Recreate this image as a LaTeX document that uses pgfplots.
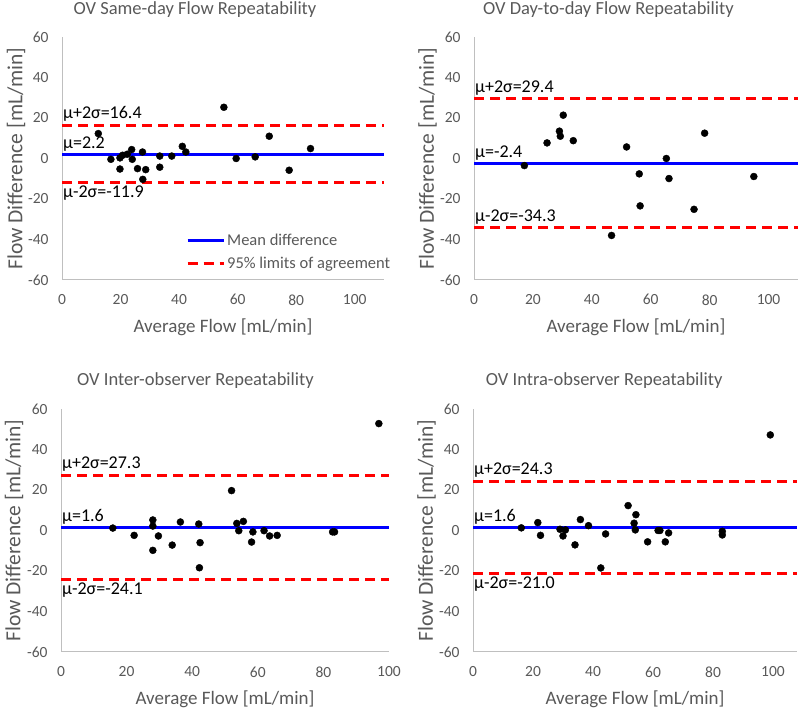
\documentclass[border=0pt]{standalone}
\usepackage{pgfplots}
\pgfplotsset{compat=1.18}
\usepackage{fontspec}
\setmainfont{Carlito}
\definecolor{txtgray}{HTML}{595959}
\definecolor{axgray}{HTML}{BFBFBF}
\definecolor{mblue}{RGB}{0,0,255}
\definecolor{lred}{RGB}{255,0,0}
\tikzset{ann/.style={font=\fontsize{18}{20}\selectfont, text=black, inner sep=1pt},
  ttl/.style={font=\fontsize{18.5}{20}\selectfont, text=txtgray, anchor=center, inner sep=0pt}}
\pgfplotsset{
  ba/.style={
    scale only axis, height=243pt,
    ymin=-60, ymax=60, ytick={-60,-40,...,60},
    xmin=0, xtick={0,20,...,100},
    axis x line*=bottom, axis y line*=left,
    axis line style={axgray, line width=1pt},
    major tick length=0pt,
    /pgf/number format/assume math mode=true,
    tick label style={font=\fontsize{15.5}{17}\selectfont, text=txtgray},
    yticklabel style={xshift=-10pt},
    xticklabel style={yshift=-11pt},
    xlabel={Average Flow [mL/min]},
    ylabel={Flow Difference [mL/min]},
    xlabel style={font=\fontsize{19}{21}\selectfont, text=txtgray, at={(axis description cs:0.5,-0.193)}, anchor=center},
    ylabel style={font=\fontsize{21.5}{23}\selectfont, text=txtgray, at={(axis description cs:-0.143,0.5)}, anchor=center},
    clip=false,
  },
  sc/.style={only marks, mark=*, mark size=3.5pt, black, forget plot},
  mline/.style={mblue, line width=3pt},
  lline/.style={lred, line width=3pt, dash pattern=on 10pt off 6pt},
}
\begin{document}
\begin{tikzpicture}
\path[use as bounding box] (0pt,0pt) rectangle (800pt,709pt);
% Panel 1
\begin{axis}[ba, at={(62pt,429pt)}, anchor=south west, width=322pt, xmax=110,
  legend style={at={(axis description cs:0.385,0.2)}, anchor=north west, draw=none, fill=none,
    font=\fontsize{16.5}{18}\selectfont, text=txtgray, row sep=6pt, inner sep=0pt},
  legend cell align=left,
  legend image code/.code={\draw[#1] (0pt,0pt) -- (36pt,0pt);}]
\addplot[sc] coordinates {(12.4,12.3) (16.7,-0.4) (19.8,0.3) (19.8,-5.2) (20.7,1.6) (22.3,2.1) (23.8,4.4) (24.0,-0.4) (25.8,-5.0) (27.5,3.2) (27.6,-10.3) (28.6,-5.5) (33.4,1.2) (33.4,-4.3) (37.5,1.2) (41.1,6.0) (42.3,3.2) (55.3,25.3) (59.5,0.0) (66.0,0.8) (70.8,11.0) (77.6,-5.8) (84.9,4.9)};
\addplot[mline] coordinates {(0,2.2) (110,2.2)};
\addlegendentry{Mean difference}
\addplot[lline] coordinates {(0,16.4) (110,16.4)};
\addlegendentry{95\% limits of agreement}
\addplot[lline, forget plot] coordinates {(0,-11.9) (110,-11.9)};
\node[ann, anchor=south west] at (axis cs:0,17.5) {μ+2σ=16.4};
\node[ann, anchor=south west] at (axis cs:0,3.0) {μ=2.2};
\node[ann, anchor=north west] at (axis cs:0,-13.0) {μ-2σ=-11.9};
\node[ttl] at (axis description cs:0.413,1.111) {OV Same-day Flow Repeatability};
\end{axis}
% Panel 2
\begin{axis}[ba, at={(474pt,429pt)}, anchor=south west, width=324pt, xmax=110]
\addplot[sc] coordinates {(17.1,-3.5) (24.8,7.7) (29.0,13.5) (29.3,11.0) (30.3,21.4) (33.7,8.8) (46.7,-38.0) (51.8,5.7) (56.1,-7.6) (56.4,-23.4) (65.3,0.0) (66.2,-9.9) (74.7,-25.1) (78.3,12.5) (95.0,-8.9)};
\addplot[mline] coordinates {(0,-2.4) (110,-2.4)};
\addplot[lline] coordinates {(0,29.4) (110,29.4)};
\addplot[lline] coordinates {(0,-34.3) (110,-34.3)};
\node[ann, anchor=south west] at (axis cs:0,30.5) {μ+2σ=29.4};
\node[ann, anchor=south west] at (axis cs:0,-1.6) {μ=-2.4};
\node[ann, anchor=south west] at (axis cs:0,-33.3) {μ-2σ=-34.3};
\node[ttl] at (axis description cs:0.415,1.111) {OV Day-to-day Flow Repeatability};
\end{axis}
% Panel 3
\begin{axis}[ba, at={(61pt,57pt)}, anchor=south west, width=328pt, xmax=100]
\addplot[sc] coordinates {(15.8,1.2) (22.3,-2.4) (28.0,5.2) (28.0,2.2) (28.0,-9.8) (29.7,-2.7) (33.9,-7.2) (36.4,4.2) (42.0,3.2) (42.4,-6.0) (42.2,-18.4) (52.0,19.7) (53.6,3.5) (54.2,-0.1) (55.6,4.5) (58.5,-0.7) (58.1,-5.7) (61.9,-0.1) (63.6,-2.7) (65.9,-2.4) (82.8,-0.7) (83.4,-0.7) (96.9,52.8)};
\addplot[mline] coordinates {(0,1.6) (100,1.6)};
\addplot[lline] coordinates {(0,27.3) (100,27.3)};
\addplot[lline] coordinates {(0,-24.1) (100,-24.1)};
\node[ann, anchor=south west] at (axis cs:0,28.4) {μ+2σ=27.3};
\node[ann, anchor=south west] at (axis cs:0,2.6) {μ=1.6};
\node[ann, anchor=north west] at (axis cs:0,-25.3) {μ-2σ=-24.1};
\node[ttl] at (axis description cs:0.41,1.119) {OV Inter-observer Repeatability};
\end{axis}
% Panel 4
\begin{axis}[ba, at={(473pt,57pt)}, anchor=south west, width=324pt, xmax=108]
\addplot[sc] coordinates {(16.1,1.3) (21.6,3.9) (22.5,-2.4) (29.0,0.6) (30.0,-2.7) (30.8,0.3) (34.0,-7.1) (35.8,5.4) (38.5,2.4) (42.6,-18.5) (44.2,-1.7) (51.7,12.3) (53.7,3.6) (54.3,7.8) (54.1,0.3) (58.2,-5.6) (61.7,0.0) (62.3,0.0) (64.1,-5.6) (65.2,-1.2) (83.1,-0.4) (83.1,-2.2) (99.1,47.2)};
\addplot[mline] coordinates {(0,1.6) (108,1.6)};
\addplot[lline] coordinates {(0,24.3) (108,24.3)};
\addplot[lline] coordinates {(0,-21.0) (108,-21.0)};
\node[ann, anchor=south west] at (axis cs:0,25.4) {μ+2σ=24.3};
\node[ann, anchor=south west] at (axis cs:0,2.6) {μ=1.6};
\node[ann, anchor=north west] at (axis cs:0,-22.2) {μ-2σ=-21.0};
\node[ttl] at (axis description cs:0.405,1.119) {OV Intra-observer Repeatability};
\end{axis}
\end{tikzpicture}
\end{document}
